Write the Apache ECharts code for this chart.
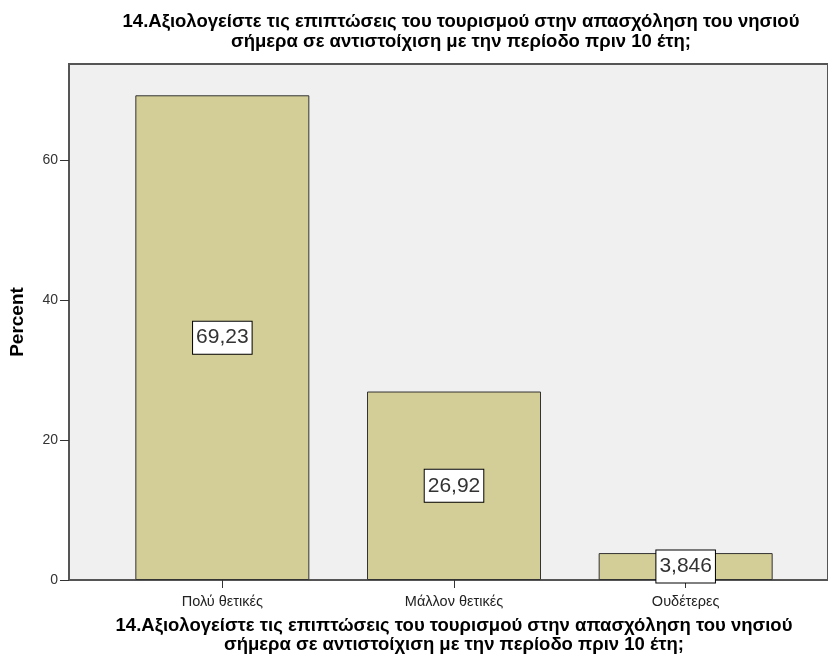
<!DOCTYPE html>
<html>
<head>
<meta charset="utf-8">
<script src="https://cdn.jsdelivr.net/npm/echarts@6/dist/echarts.min.js"></script>
<style>
  html, body { margin: 0; padding: 0; background: #fff; }
  #chart { width: 828px; height: 662px; }
</style>
</head>
<body>
<div id="chart"></div>
<script>
const titleText = '14.Αξιολογείστε τις επιπτώσεις του τουρισμού στην απασχόληση του νησιού\nσήμερα σε αντιστοίχιση με την περίοδο πριν 10 έτη;'
const categories = ['Πολύ θετικές', 'Μάλλον θετικές', 'Ουδέτερες']
const percents = [69.23, 26.92, 3.846]
const yTicks = [0, 20, 40, 60]

const yMax = 73.7
const chart = echarts.init(document.getElementById('chart'))
const option = {
  animation: false,
  textStyle: { fontFamily: 'Liberation Sans, Arial, sans-serif' },
  title: {
    text: titleText,
    left: 456,
    top: 7,
    textAlign: 'center',
    textStyle: { fontSize: 18.5, fontWeight: 'bold', color: '#000', lineHeight: 20 }
  },
  grid: [
    // frame with background, runs past the right edge like the original
    { left: 68, top: 64, width: 772, bottom: 82, show: true, backgroundColor: '#f0f0f0', borderColor: '#555', borderWidth: 2 },
    // data area holding the bars
    { left: 106.5, top: 64, width: 695, bottom: 82 }
  ],
  xAxis: [
    { gridIndex: 0, type: 'value', show: false, min: 0, max: 1 },
    {
      gridIndex: 1,
      type: 'category',
      data: categories,
      axisLine: { show: false },
      axisTick: { show: true, alignWithLabel: true, length: 8, lineStyle: { color: '#333' } },
      axisLabel: { fontSize: 14.5, color: '#222', margin: 14 },
      name: titleText,
      nameLocation: 'middle',
      nameGap: 36,
      nameTextStyle: { fontSize: 18.5, fontWeight: 'bold', color: '#000', lineHeight: 19 }
    }
  ],
  yAxis: [
    {
      gridIndex: 0,
      type: 'value',
      min: 0,
      max: yMax,
      axisLine: { show: true, lineStyle: { color: '#555', width: 2 } },
      axisTick: { show: true, length: 9, customValues: yTicks, lineStyle: { color: '#333' } },
      axisLabel: { fontSize: 14, color: '#333', margin: 11, customValues: yTicks },
      splitLine: { show: false },
      name: 'Percent',
      nameLocation: 'middle',
      nameGap: 42,
      nameTextStyle: { fontSize: 19, fontWeight: 'bold', color: '#000' }
    },
    { gridIndex: 1, type: 'value', min: 0, max: yMax, show: false }
  ],
  series: [
    {
      type: 'bar',
      xAxisIndex: 1,
      yAxisIndex: 1,
      data: percents,
      barWidth: 174,
      itemStyle: { color: '#d3ce97', borderColor: '#333', borderWidth: 1 },
      label: {
        show: true,
        position: 'inside',
        formatter: p => String(p.value).replace('.', ','),
        fontSize: 21,
        lineHeight: 23,
        color: '#333',
        backgroundColor: '#fff',
        borderColor: '#000',
        borderWidth: 1,
        padding: [5, 3, 4, 3]
      }
    }
  ]
}
chart.setOption(option)
</script>
</body>
</html>
